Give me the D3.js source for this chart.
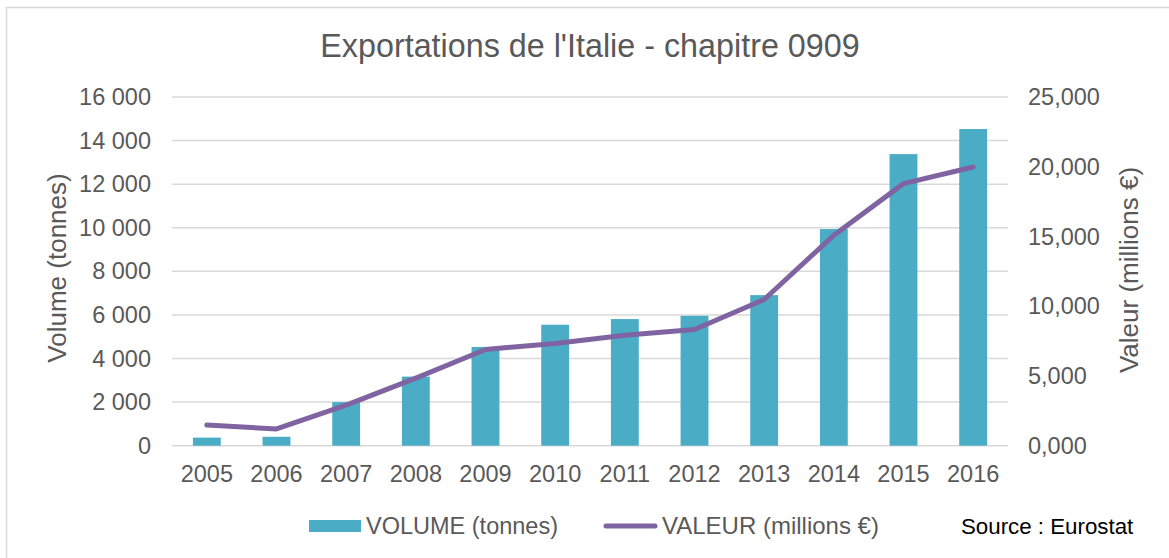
<!DOCTYPE html>
<html>
<head>
<meta charset="utf-8">
<script src="https://cdn.jsdelivr.net/npm/d3@7"></script>
<style>
  html, body { margin: 0; padding: 0; background: #fff; }
  svg { display: block; font-family: "Liberation Sans", Arial, sans-serif; }
</style>
</head>
<body>
<svg id="chart" width="1169" height="558"></svg>
<script>
const years = ["2005","2006","2007","2008","2009","2010","2011","2012","2013","2014","2015","2016"];
const volume = [370, 410, 2000, 3170, 4530, 5550, 5810, 5960, 6910, 9940, 13380, 14530];
const valeur = [1480, 1200, 2910, 4850, 6900, 7330, 7920, 8330, 10480, 15090, 18790, 19980];
const leftTicks = [0, 2000, 4000, 6000, 8000, 10000, 12000, 14000, 16000];
const leftTickLabels = ["0", "2 000", "4 000", "6 000", "8 000", "10 000", "12 000", "14 000", "16 000"];
const rightTicks = [0, 5000, 10000, 15000, 20000, 25000];
const rightTickLabels = ["0,000", "5,000", "10,000", "15,000", "20,000", "25,000"];
const title = "Exportations de l'Italie - chapitre 0909";
const leftTitle = "Volume (tonnes)";
const rightTitle = "Valeur (millions €)";
const legendLabels = ["VOLUME (tonnes)", "VALEUR (millions €)"];
const sourceText = "Source : Eurostat";

const svg = d3.select("#chart");
const textColor = "#595959";
const barColor = "#4BACC6";
const lineColor = "#8064A2";
const gridColor = "#D9D9D9";

const plot = { left: 172, right: 1008, top: 97, bottom: 445.7 };

// border
svg.append("rect").attr("x", 6.5).attr("y", 7.5).attr("width", 1300).attr("height", 700)
  .attr("fill", "#fff").attr("stroke", gridColor).attr("stroke-width", 1.5);

const x = d3.scaleBand().domain(years).range([plot.left, plot.right]).paddingInner(0.6).paddingOuter(0.3);
const yL = d3.scaleLinear().domain([0, 16000]).range([plot.bottom, plot.top]);
const yR = d3.scaleLinear().domain([0, 25000]).range([plot.bottom, plot.top]);

// gridlines
svg.append("g").selectAll("line").data(leftTicks).join("line")
  .attr("x1", plot.left).attr("x2", plot.right)
  .attr("y1", d => yL(d)).attr("y2", d => yL(d))
  .attr("stroke", gridColor).attr("stroke-width", 1.5);

// left axis
const leftAxis = d3.axisLeft(yL).tickValues(leftTicks)
  .tickFormat((d, i) => leftTickLabels[i]).tickSize(0).tickPadding(0);
const gL = svg.append("g").attr("transform", `translate(151,0)`).call(leftAxis);
gL.select(".domain").remove();
gL.selectAll("text").attr("fill", textColor).style("font-size", "23.5px")
  .style("font-family", "Liberation Sans, Arial, sans-serif");

// right axis
const rightAxis = d3.axisRight(yR).tickValues(rightTicks)
  .tickFormat((d, i) => rightTickLabels[i]).tickSize(0).tickPadding(0);
const gR = svg.append("g").attr("transform", `translate(1028,0)`).call(rightAxis);
gR.select(".domain").remove();
gR.selectAll("text").attr("fill", textColor).style("font-size", "23.5px")
  .style("font-family", "Liberation Sans, Arial, sans-serif");

// bottom axis
const bottomAxis = d3.axisBottom(x).tickSize(0).tickPadding(0);
const gB = svg.append("g").attr("transform", `translate(0,${plot.bottom + 20})`).call(bottomAxis);
gB.select(".domain").remove();
gB.selectAll("text").attr("fill", textColor).attr("dy", "0.71em").style("font-size", "23.5px")
  .style("font-family", "Liberation Sans, Arial, sans-serif");

// bars
svg.append("g").selectAll("rect").data(volume).join("rect")
  .attr("x", (d, i) => x(years[i]))
  .attr("width", x.bandwidth())
  .attr("y", d => yL(d))
  .attr("height", d => yL(0) - yL(d))
  .attr("fill", barColor);

// line
const line = d3.line()
  .x((d, i) => x(years[i]) + x.bandwidth() / 2)
  .y(d => yR(d));
svg.append("path").datum(valeur).attr("d", line)
  .attr("fill", "none").attr("stroke", lineColor).attr("stroke-width", 5)
  .attr("stroke-linejoin", "round").attr("stroke-linecap", "round");

// title
svg.append("text").attr("x", 590).attr("y", 57).attr("text-anchor", "middle")
  .attr("fill", textColor).style("font-size", "32.3px").text(title);

// axis titles
svg.append("text").attr("transform", "translate(66,268) rotate(-90)").attr("text-anchor", "middle")
  .attr("fill", textColor).style("font-size", "26px").text(leftTitle);
svg.append("text").attr("transform", "translate(1138,270) rotate(-90)").attr("text-anchor", "middle")
  .attr("fill", textColor).style("font-size", "26px").text(rightTitle);

// legend
const lg = svg.append("g");
lg.append("rect").attr("x", 309).attr("y", 520).attr("width", 52).attr("height", 12).attr("fill", barColor);
lg.append("text").attr("x", 366).attr("y", 534).attr("fill", textColor).style("font-size", "23.5px").text(legendLabels[0]);
lg.append("line").attr("x1", 606).attr("x2", 655).attr("y1", 526).attr("y2", 526)
  .attr("stroke", lineColor).attr("stroke-width", 5).attr("stroke-linecap", "round");
lg.append("text").attr("x", 662).attr("y", 534).attr("fill", textColor).style("font-size", "24px").text(legendLabels[1]);

// source
svg.append("text").attr("x", 961).attr("y", 534).attr("fill", "#000").style("font-size", "22.3px").text(sourceText);
</script>
</body>
</html>
